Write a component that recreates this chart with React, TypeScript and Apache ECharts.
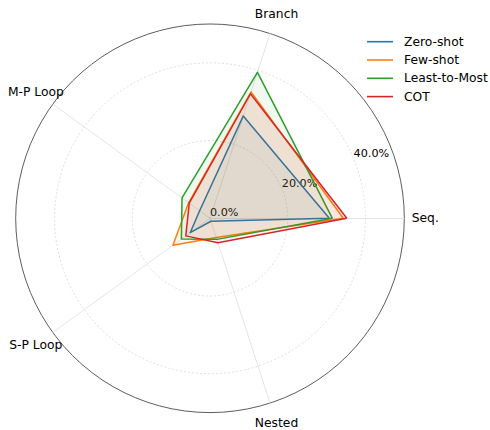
import React, { useEffect, useRef } from "react";
import * as echarts from "echarts";

const categories = ["Seq.", "Branch", "M-P Loop", "S-P Loop", "Nested"];
const seriesNames = ["Zero-shot", "Few-shot", "Least-to-Most", "COT"];
const zeroShot = [30.7, 27.7, 3.3, 6.3, 0.8];
const fewShot = [34.3, 34.2, 6.8, 11.8, 5.2];
const leastToMost = [31.5, 39.5, 8.9, 9.1, 5.7];
const cot = [35.2, 33.7, 6.6, 7.7, 6.6];
const tickValues = [0, 20, 40];
const axisMax = 50;
const colors = ["#1f77b4", "#ff7f0e", "#2ca02c", "#d62728"];

const FONT = "DejaVu Sans";
const CENTER = [210, 218.3];
const RADIUS = 194.3;

export default function App() {
  const ref = useRef<HTMLDivElement>(null);
  useEffect(() => {
    if (!ref.current) return;
    const chart = echarts.init(ref.current, null, { renderer: "svg" });
    const values = [zeroShot, fewShot, leastToMost, cot];
    const baseRadar = {
      center: CENTER,
      radius: RADIUS,
      shape: "circle",
      splitArea: { show: false },
    };
    const option: any = {
      animation: false,
      backgroundColor: "#fff",
      textStyle: { fontFamily: FONT },
      legend: {
        orient: "vertical",
        left: 367,
        top: 34.7,
        padding: 0,
        itemWidth: 26,
        itemHeight: 1.6,
        itemGap: 4.3,
        icon: "rect",
        data: seriesNames,
        textStyle: {
          fontFamily: FONT,
          fontSize: 12.3,
          color: "#000",
          lineHeight: 14,
          padding: [0, 0, 0, 6],
        },
      },
      radar: [
        {
          ...baseRadar,
          startAngle: 0,
          splitNumber: 5,
          nameGap: 21,
          indicator: categories.map((c) => ({ name: c, min: 0, max: axisMax })),
          axisName: {
            color: "#000",
            fontFamily: FONT,
            fontSize: 12.3,
            align: "center",
            verticalAlign: "middle",
          },
          axisLine: { show: true, lineStyle: { color: "#dddddd", width: 0.8 } },
          axisTick: { show: false },
          axisLabel: { show: false },
          splitLine: {
            show: true,
            lineStyle: {
              color: ["#d6d6d6", "rgba(0,0,0,0)"],
              width: 0.8,
              type: [2, 2],
            },
          },
        },
        {
          ...baseRadar,
          startAngle: 0,
          splitNumber: 1,
          indicator: categories.map((c) => ({ name: c, min: 0, max: axisMax })),
          axisName: { show: false },
          axisLine: { show: false },
          axisTick: { show: false },
          axisLabel: { show: false },
          splitLine: { show: true, lineStyle: { color: "#333", width: 0.8 } },
        },
        {
          ...baseRadar,
          startAngle: 22.5,
          splitNumber: 5,
          indicator: categories.map((c, i) => ({
            name: c,
            min: 0,
            max: axisMax,
            axisLabel: { show: i === 0 },
          })),
          axisName: { show: false },
          axisLine: { show: false },
          axisTick: { show: false },
          splitLine: { show: false },
          axisLabel: {
            show: true,
            margin: 0,
            align: "left",
            verticalAlign: "bottom",
            color: "#000",
            fontFamily: FONT,
            fontSize: 11.2,
            showMinLabel: true,
            showMaxLabel: true,
            hideOverlap: false,
            formatter: (v: number) =>
              tickValues.indexOf(v) >= 0 ? v.toFixed(1) + "%" : "",
          },
        },
      ],
      series: seriesNames.map((name, i) => ({
        type: "radar",
        radarIndex: 0,
        name,
        color: colors[i],
        symbol: "none",
        z: 2 + i,
        lineStyle: { color: colors[i], width: 1.5 },
        areaStyle: { color: colors[i], opacity: 0.07 },
        data: [{ name, value: values[i] }],
      })),
    };
    chart.setOption(option);
    return () => chart.dispose();
  }, []);
  return (
    <div
      ref={ref}
      style={{ position: "fixed", left: 0, top: 0, width: 490, height: 430 }}
    />
  );
}
